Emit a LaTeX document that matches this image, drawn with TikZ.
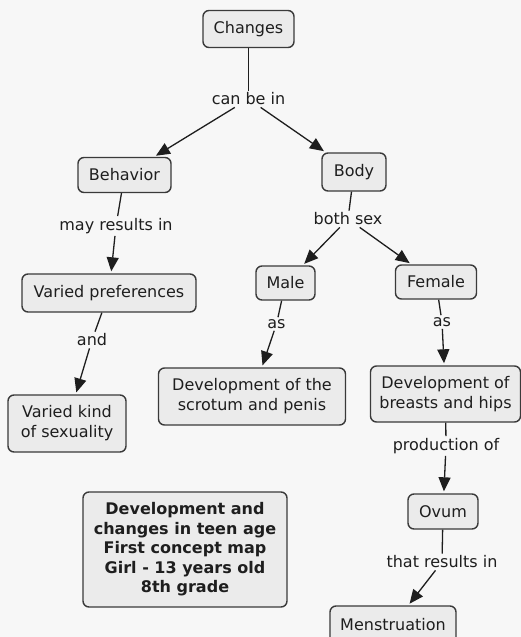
\documentclass[tikz,border=0pt]{standalone}
\usepackage{fontspec}
\setmainfont{DejaVu Sans}
\usetikzlibrary{arrows.meta}
\definecolor{bg}{HTML}{F7F7F7}
\definecolor{boxfill}{HTML}{EBEBEB}
\definecolor{boxline}{HTML}{3A3A3A}
\definecolor{ink}{HTML}{1E1E1E}
\begin{document}
\begin{tikzpicture}[x=1pt,y=-1pt,
  concept/.style={draw=boxline, fill=boxfill, line width=1.4pt, rounded corners=6pt,
    align=center, inner sep=0pt, text=ink, font=\fontsize{16}{20}\selectfont},
  linklabel/.style={inner sep=2pt, text=ink, font=\fontsize{16}{20}\selectfont},
  link/.style={draw=ink, line width=1.3pt},
  arr/.style={link, shorten >=2pt, -{Triangle[width=12pt,length=14pt]}}]
\useasboundingbox (0,0) rectangle (521,637);
\fill[bg] (0,0) rectangle (521,637);
\clip (0,0) rectangle (521,637);
% concepts
\node[concept, minimum width=91pt, minimum height=37pt] (changes) at (248.5,29) {Changes};
\node[concept, minimum width=93pt, minimum height=35pt] (behavior) at (124.5,175) {Behavior};
\node[concept, minimum width=64pt, minimum height=38pt] (body) at (354,172) {Body};
\node[concept, minimum width=174pt, minimum height=38pt] (prefs) at (109,293) {Varied preferences};
\node[concept, minimum width=118pt, minimum height=57pt] (kind) at (67,423.5) {Varied kind\\of sexuality};
\node[concept, minimum width=59pt, minimum height=34pt] (male) at (285.5,283) {Male};
\node[concept, minimum width=81pt, minimum height=34pt] (female) at (436,282) {Female};
\node[concept, minimum width=187pt, minimum height=57pt] (scrotum) at (252,396.5) {Development of the\\scrotum and penis};
\node[concept, minimum width=150pt, minimum height=56pt] (breasts) at (445.5,394) {Development of\\breasts and hips};
\node[concept, minimum width=70pt, minimum height=35pt] (ovum) at (443,511.5) {Ovum};
\node[concept, minimum width=126pt, minimum height=38pt] (mens) at (393,625) {Menstruation};
\node[concept, minimum width=204pt, minimum height=115pt, font=\bfseries\fontsize{16}{19.5}\selectfont] (title) at (185,549.5)
  {Development and\\changes in teen age\\First concept map\\Girl - 13 years old\\8th grade};
% link labels
\node[linklabel] (l1) at (248.5,99) {can be in};
\node[linklabel] (l2) at (116,226) {may results in};
\node[linklabel] (l3) at (92,340) {and};
\node[linklabel] (l4) at (348,219) {both sex};
\node[linklabel] (l5) at (276.5,324) {as};
\node[linklabel] (l6) at (442,322) {as};
\node[linklabel] (l7) at (446,446) {production of};
\node[linklabel] (l8) at (442,562) {that results in};
% connectors
\draw[link] (changes) -- (l1);
\draw[arr] (l1) -- (behavior);
\draw[arr] (l1) -- (body);
\draw[link] (behavior) -- (l2);
\draw[arr] (l2) -- (prefs);
\draw[link] (prefs) -- (l3);
\draw[arr] (l3) -- (kind);
\draw[link] (body) -- (l4);
\draw[arr] (l4) -- (male);
\draw[arr] (l4) -- (female);
\draw[link] (male) -- (l5);
\draw[arr] (l5) -- (scrotum);
\draw[link] (female) -- (l6);
\draw[arr] (l6) -- (breasts);
\draw[link] (breasts) -- (l7);
\draw[arr] (l7) -- (ovum);
\draw[link] (ovum) -- (l8);
\draw[arr] (l8) -- (mens);
\end{tikzpicture}
\end{document}
